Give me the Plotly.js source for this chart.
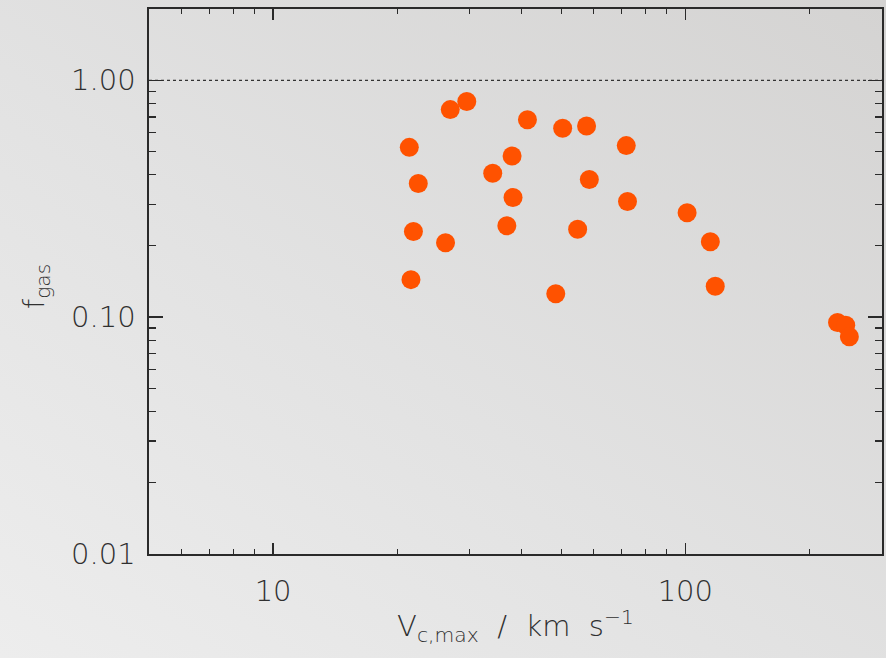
<!DOCTYPE html>
<html>
<head>
<meta charset="utf-8">
<script src="https://cdn.plot.ly/plotly-3.0.1.min.js"></script>
<style>
  html, body { margin: 0; padding: 0; }
  body {
    width: 886px; height: 658px; overflow: hidden;
    background: linear-gradient(to top right, #ededed 0%, #e2e2e2 45%, #d4d3d2 100%);
  }
  #chart { width: 886px; height: 658px; }
</style>
</head>
<body>
<div id="chart"></div>
<script>
// Maximum circular velocity (km/s) and gas fraction of each galaxy
const vcMax = [26.9, 29.5, 41.4, 50.4, 57.6, 21.4, 71.9, 38.0, 22.5, 34.1,
               58.5, 38.2, 72.4, 21.9, 26.2, 36.9, 54.8, 21.6, 48.5, 101,
               115, 118.2, 234, 245, 250];
const fGas  = [0.752, 0.813, 0.682, 0.627, 0.641, 0.521, 0.530, 0.479, 0.367, 0.405,
               0.381, 0.320, 0.308, 0.230, 0.206, 0.243, 0.235, 0.144, 0.1256, 0.276,
               0.208, 0.135, 0.0950, 0.0925, 0.0827];

// Axis ticks
const xTickVals = [10, 100];
const xTickText = ['10', '100'];
const yTickVals = [0.01, 0.1, 1];
const yTickText = ['0.01', '0.10', '1.00'];

// Reference level f_gas = 1
const unityLevel = 1.0;

const xRange = [5, 300];
const yRange = [0.01, 2];

const axisColor = '#2a2a2a';
const textFont = { family: 'DejaVu Sans', size: 29, color: '#303030', weight: 200 };

const trace = {
  x: vcMax,
  y: fGas,
  type: 'scatter',
  mode: 'markers',
  marker: { size: 19, color: '#ff5200' },
  hoverinfo: 'x+y'
};

const layout = {
  width: 886,
  height: 658,
  margin: { l: 149, r: 4, t: 9, b: 104 },
  paper_bgcolor: 'rgba(0,0,0,0)',
  plot_bgcolor: 'rgba(0,0,0,0)',
  showlegend: false,
  font: textFont,
  xaxis: {
    type: 'log',
    range: xRange.map(Math.log10),
    tickmode: 'array',
    tickvals: xTickVals,
    ticktext: xTickText,
    ticks: 'inside',
    ticklen: 11,
    tickwidth: 1.3,
    tickcolor: axisColor,
    minor: { dtick: 'D1', ticks: 'inside', ticklen: 5, tickwidth: 1.2, tickcolor: axisColor },
    showline: true,
    linecolor: axisColor,
    linewidth: 1.6,
    mirror: 'ticks',
    showgrid: false,
    zeroline: false,
    tickfont: textFont,
    ticklabelstandoff: 11,
    title: {
      text: 'V<sub>c,max</sub>  /  km  s<sup>\u22121</sup>',
      font: textFont,
      standoff: 8
    }
  },
  yaxis: {
    type: 'log',
    range: yRange.map(Math.log10),
    tickmode: 'array',
    tickvals: yTickVals,
    ticktext: yTickText,
    ticks: 'inside',
    ticklen: 14,
    tickwidth: 1.3,
    tickcolor: axisColor,
    minor: { dtick: 'D1', ticks: 'inside', ticklen: 7, tickwidth: 1.2, tickcolor: axisColor },
    showline: true,
    linecolor: axisColor,
    linewidth: 1.6,
    mirror: 'ticks',
    showgrid: false,
    zeroline: false,
    tickfont: textFont,
    ticklabelstandoff: 6
  },
  // y-axis title, placed as a rotated label left of the tick labels
  annotations: [{
    text: 'f<sub>gas</sub>',
    xref: 'paper', yref: 'paper',
    x: -0.154, y: 0.49,
    xanchor: 'center', yanchor: 'middle',
    textangle: -90,
    showarrow: false,
    font: textFont
  }],
  shapes: [{
    type: 'line',
    xref: 'paper', x0: 0, x1: 1,
    yref: 'y', y0: unityLevel, y1: unityLevel,
    line: { color: '#333333', width: 1.3, dash: 'dot' },
    layer: 'below'
  }]
};

Plotly.newPlot('chart', [trace], layout, { displayModeBar: false, staticPlot: true });
</script>
</body>
</html>
